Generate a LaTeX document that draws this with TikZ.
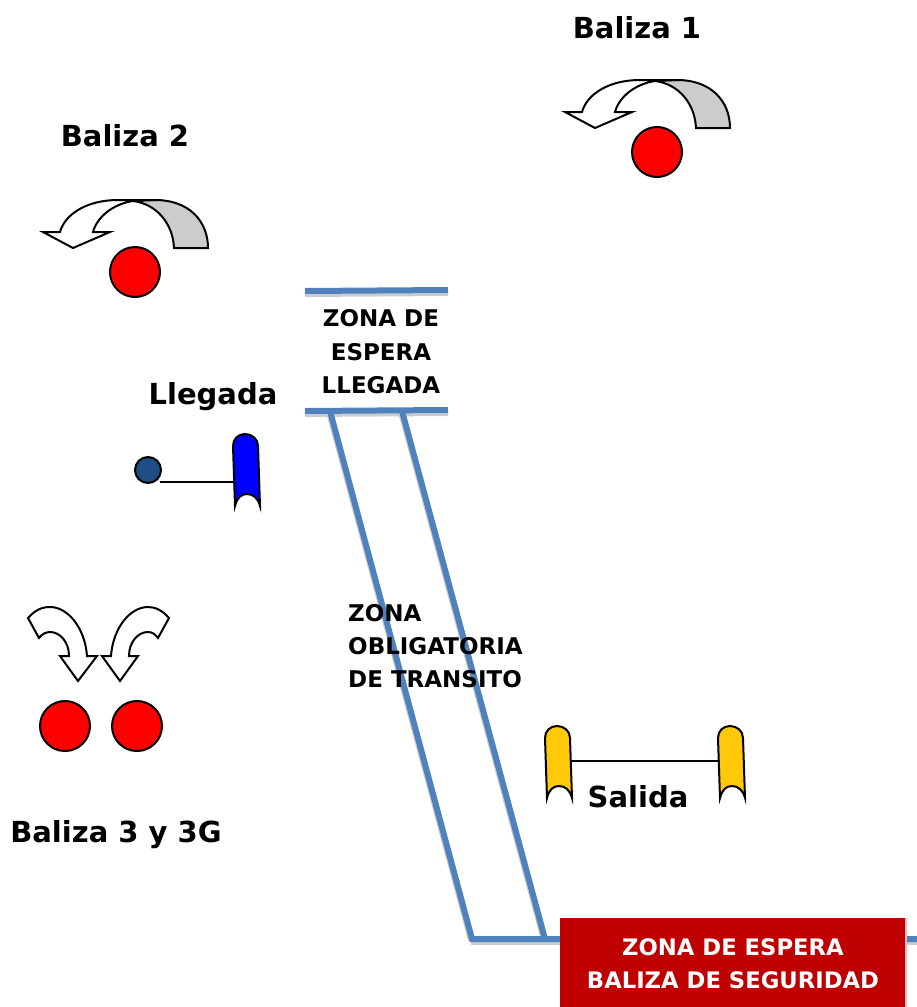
\documentclass[tikz,border=0pt]{standalone}
\usepackage{fontspec}
\setmainfont{DejaVu Sans}
\definecolor{zoneblue}{HTML}{4F81BD}
\definecolor{postblue}{HTML}{0000FF}
\definecolor{postgold}{HTML}{FFC90A}
\definecolor{dotblue}{HTML}{1F4E86}
\definecolor{boxred}{HTML}{C00000}
\definecolor{bandgray}{HTML}{CCCCCC}
\definecolor{fringe}{HTML}{F4B8B8}
\tikzset{
  beacon/.style={circle,draw=black,line width=2pt,fill=red,minimum size=50pt,inner sep=0pt},
  zoneline/.style={draw=zoneblue,line width=6pt},
  zoneshadow/.style={draw=bandgray,line width=6pt},
  heading/.style={font=\bfseries\fontsize{29}{32}\selectfont,text=black,inner sep=0pt},
  small/.style={font=\bfseries\fontsize{23}{26}\selectfont,text=black,inner sep=0pt},
  wlabel/.style={font=\bfseries\fontsize{22.7}{26}\selectfont,text=white,inner sep=0pt},
  outline/.style={draw=black,line width=2pt,line join=miter},
  uturn/.pic={
    \path[outline,fill=bandgray] (-2,-71) .. controls (22,-68) and (38,-48) .. (39,-24) -- (73,-24)
       .. controls (73,-50) and (55,-72) .. (20,-72) -- cycle;
    \path[outline,fill=white] (20,-72) -- (-17,-72) .. controls (-48,-72) and (-70,-58) .. (-75,-40)
       -- (-92,-40) -- (-62,-24) -- (-25,-40) -- (-42,-40) .. controls (-38,-55) and (-22,-68) .. (-2,-71)
       .. controls (5,-72) and (12,-72) .. (20,-72) -- cycle;
  },
  post/.pic={
    \path[outline,fill=#1] (2,41) -- (0,-19) .. controls (0,-26) and (5,-31) .. (12,-31)
      .. controls (19,-31) and (25,-26) .. (25,-19) -- (27,41)
      .. controls (25,33) and (20,29) .. (14,29) .. controls (8,29) and (4,33) .. (2,41) -- cycle;
  }
}
\begin{document}
\begin{tikzpicture}[x=1pt,y=-1pt]
\useasboundingbox (0,0) rectangle (917,1007);
% zone lines
\coordinate (tl) at (305,291); \coordinate (tr) at (448,290);
\coordinate (ml) at (305,411); \coordinate (mr) at (448,410);
\coordinate (sa) at (330,411); \coordinate (sb) at (402,411);
\coordinate (ba) at (472,939); \coordinate (bb) at (545,939);
\coordinate (be) at (917,939);
\draw[zoneshadow] ([shift={(0,3)}]tl) -- ([shift={(0,3)}]tr);
\draw[zoneshadow] ([shift={(0,3)}]ml) -- ([shift={(0,3)}]mr);
\draw[zoneshadow] ([shift={(-1,1)}]sa) -- ([shift={(-1,1)}]ba);
\draw[zoneshadow] ([shift={(-1,1)}]sb) -- ([shift={(-1,1)}]bb);
\draw[zoneshadow] ([shift={(-1,3)}]ba) -- ([shift={(0,3)}]be);
\draw[zoneline] (tl) -- (tr);
\draw[zoneline] (ml) -- (mr);
\draw[zoneline] (sa) -- (ba) -- (be);
\draw[zoneline] (sb) -- (bb);
% headings
\node[heading] (b1) at (637,28) {Baliza 1};
\node[heading] (b2) at (125,136) {Baliza 2};
\node[heading] (lleg) at (213,397) {Llegada};
\node[heading] (b3) at (116,835) {Baliza 3 y 3G};
\node[heading] (sal) at (638,797) {Salida};
% beacons
\node[beacon] (c1) at (657,152) {};
\node[beacon] (c2) at (135,272) {};
\node[beacon] (c3) at (65,726) {};
\node[beacon] (c4) at (137,726) {};
\pic at (c1) {uturn};
\pic at (c2) {uturn};
% bent arrows
\path[outline,fill=white] (28,618) .. controls (35,610) and (42,607) .. (50,607)
  .. controls (68,607) and (85,628) .. (87,656) -- (97,656) -- (78,681) -- (60,656) -- (69,656)
  .. controls (69,642) and (60,632) .. (50,632) .. controls (46,632) and (42,634) .. (39,638) -- cycle;
\path[outline,fill=white] (169,618) .. controls (162,610) and (155,607) .. (148,607)
  .. controls (130,607) and (113,628) .. (111,656) -- (102,656) -- (120,681) -- (138,656) -- (129,656)
  .. controls (129,642) and (138,632) .. (148,632) .. controls (152,632) and (155,634) .. (158,638) -- cycle;
% arrival
\node[circle,draw=black,line width=2pt,fill=dotblue,minimum size=26pt,inner sep=0pt] (dot) at (148,470) {};
\coordinate (arrS) at (160,482); \coordinate (arrE) at (234,482);
\draw[black,line width=2pt] (arrS) -- (arrE);
\pic at (233,465) {post=postblue};
% exit
\coordinate (exS) at (571,761); \coordinate (exE) at (718,761);
\draw[black,line width=2pt] (exS) -- (exE);
\pic at (545,757) {post=postgold};
\pic at (718,757) {post=postgold};
% zone text
\node[small] (z1) at (381,318) {ZONA DE};
\node[small] (z2) at (381,352) {ESPERA};
\node[small] (z3) at (381,385) {LLEGADA};
\node[small,anchor=west] (o1) at (348,613) {ZONA};
\node[small,anchor=west] (o2) at (348,646) {OBLIGATORIA};
\node[small,anchor=west] (o3) at (348,679) {DE TRANSITO};
% red box
\fill[fringe] (905,918) rectangle (906.5,1007);
\fill[boxred] (560,918) rectangle (905,1007);
\node[wlabel] (r1) at (733,947) {ZONA DE ESPERA};
\node[wlabel] (r2) at (733,980) {BALIZA DE SEGURIDAD};
\end{tikzpicture}
\end{document}
